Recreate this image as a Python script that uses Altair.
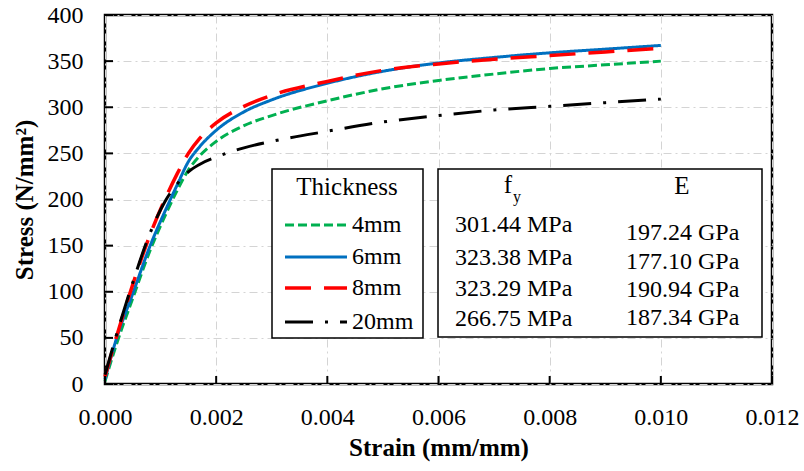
import altair as alt
import pandas as pd

# ---------------- data ----------------
strain = [0, 0.0002, 0.0005, 0.0008, 0.0011, 0.0013, 0.0015, 0.0017, 0.002,
          0.0025, 0.003, 0.004, 0.005, 0.006, 0.007, 0.008, 0.009, 0.010]
stress_4mm = [3, 42, 93, 143, 185, 210, 232, 247, 263, 280, 291, 307, 320, 329, 336, 342, 346, 350]
stress_6mm = [5, 48, 98, 148, 190, 216, 241, 257, 275, 295, 308, 326, 339, 348, 354, 359, 363, 367]
stress_8mm = [8, 50, 108, 160, 203, 228, 250, 266, 283, 301, 313, 328, 340, 347, 352, 356, 360, 364]
stress_20mm = [10, 52, 110, 162, 200, 217, 230, 238, 246, 256, 263, 274, 284, 291, 297, 301, 305, 309]

series_names = ["4mm", "6mm", "8mm", "20mm"]
fy_values = ["301.44 MPa", "323.38 MPa", "323.29 MPa", "266.75 MPa"]
E_values = ["197.24 GPa", "177.10 GPa", "190.94 GPa", "187.34 GPa"]
x_ticks = [0, 0.002, 0.004, 0.006, 0.008, 0.010, 0.012]
y_ticks = [0, 50, 100, 150, 200, 250, 300, 350, 400]

all_stress = [stress_4mm, stress_6mm, stress_8mm, stress_20mm]

# ---------------- styles ----------------
colors = {"4mm": "#00B050", "6mm": "#0070C0", "8mm": "#FF0000", "20mm": "#000000"}
dashes = {"4mm": [9, 4], "6mm": [1, 0], "8mm": [26, 13], "20mm": [28, 12, 3, 12]}
widths = {"4mm": 3, "6mm": 3, "8mm": 3.5, "20mm": 3}
FONT = "Liberation Serif"
W, H = 667, 369

xscale = alt.Scale(domain=[0, 0.012], nice=False, zero=False)
yscale = alt.Scale(domain=[0, 400], nice=False)
xaxis = alt.Axis(values=x_ticks, format=".3f", title="Strain (mm/mm)", labelFlush=False)
yaxis = alt.Axis(values=y_ticks, format="d", title="Stress (N/mm²)", labelFlush=False)

layers = []
for name, vals in zip(series_names, all_stress):
    df = pd.DataFrame({"strain": strain, "stress": vals})
    layers.append(
        alt.Chart(df).mark_line(
            color=colors[name], strokeDash=dashes[name], strokeWidth=widths[name],
            interpolate="monotone"
        ).encode(
            x=alt.X("strain:Q", scale=xscale, axis=xaxis),
            y=alt.Y("stress:Q", scale=yscale, axis=yaxis),
        )
    )

# inward ticks
xt = pd.DataFrame({"strain": x_ticks})
layers.append(alt.Chart(xt).mark_rule(color="black", strokeWidth=2).encode(
    x=alt.X("strain:Q", scale=xscale, axis=xaxis), y=alt.value(H - 8), y2=alt.value(H)))
yt = pd.DataFrame({"stress": y_ticks})
layers.append(alt.Chart(yt).mark_rule(color="black", strokeWidth=2).encode(
    y=alt.Y("stress:Q", scale=yscale, axis=yaxis), x=alt.value(0), x2=alt.value(8)))

base = alt.Chart(pd.DataFrame({"a": [0]}))

def box(x1, x2, y1, y2):
    return base.mark_rect(fill="white", stroke="black", strokeWidth=1.5).encode(
        x=alt.value(x1), x2=alt.value(x2), y=alt.value(y1), y2=alt.value(y2))

def txt(s, x, y, size=24, align="left"):
    return base.mark_text(text=s, font=FONT, fontSize=size, align=align,
                          baseline="middle", color="black").encode(
        x=alt.value(x), y=alt.value(y))

# legend box
layers.append(box(167, 318, 154, 323))
layers.append(txt("Thickness", 242, 172, 25, "center"))
leg_rows = [210, 242, 273, 307]
for name, yy in zip(series_names, leg_rows):
    layers.append(base.mark_rule(color=colors[name], strokeDash=dashes[name],
                                 strokeWidth=widths[name]).encode(
        x=alt.value(180), x2=alt.value(242), y=alt.value(yy)))
    layers.append(txt(name, 247, yy))

# table box
layers.append(box(333, 657, 154, 322))
layers.append(txt("f", 403, 170, 25, "center"))
layers.append(txt("y", 412, 182, 16, "center"))
layers.append(txt("E", 577, 171, 25, "center"))
for s, yy in zip(fy_values, [210, 243, 274, 304]):
    layers.append(txt(s, 350, yy))
for s, yy in zip(E_values, [218, 247, 275, 303]):
    layers.append(txt(s, 521, yy))

chart = alt.layer(*layers).properties(
    width=W, height=H,
    autosize=alt.AutoSizeParams(type="none"),
    padding={"left": 105, "top": 15, "right": 32, "bottom": 87},
).configure_view(stroke="black", strokeWidth=2.5).configure_axis(
    labelFont=FONT, labelFontSize=24, labelColor="black",
    titleFont=FONT, titleFontSize=25, titleFontWeight="bold", titleColor="black",
    ticks=False, domain=False, grid=True, gridColor="#d4d4d4",
    gridDash=[8, 4, 2, 4], gridWidth=1,
).configure_axisX(labelPadding=21, titlePadding=6).configure_axisY(
    labelPadding=22, titlePadding=10)

chart.save("out.html", embed_options={"renderer": "svg", "actions": False})
